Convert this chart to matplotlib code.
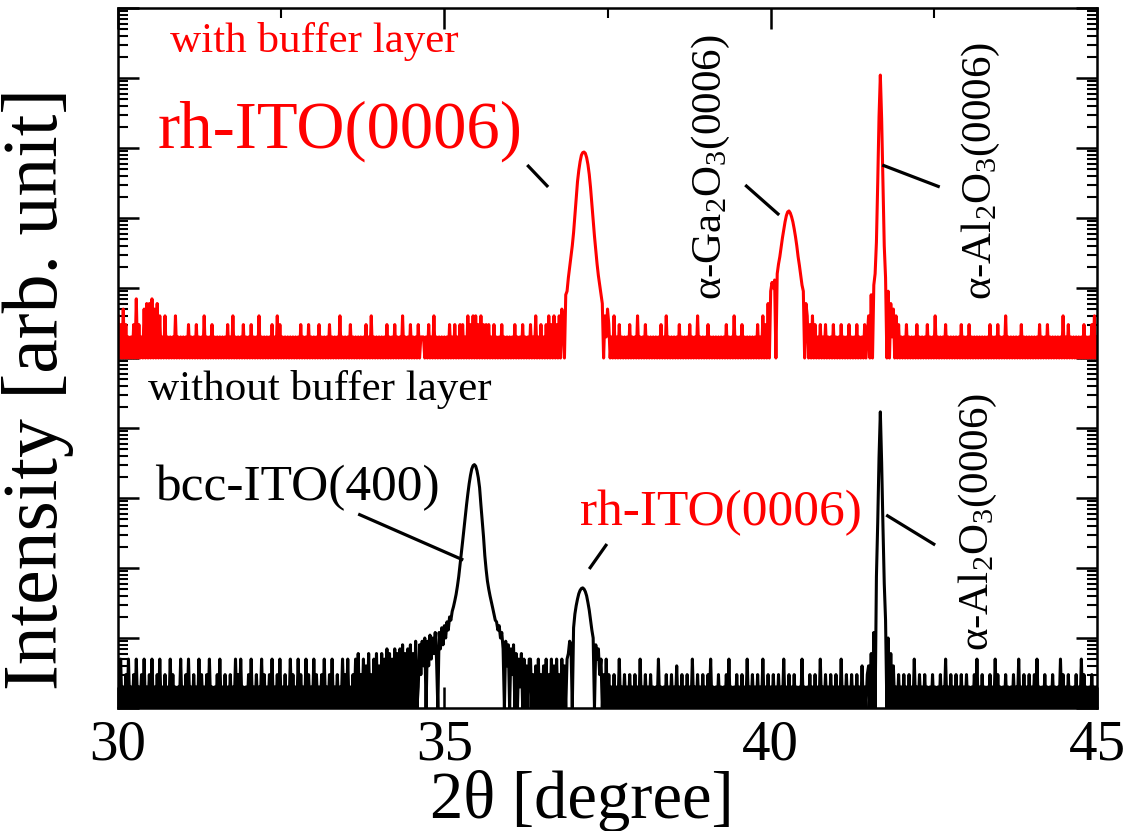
import matplotlib

matplotlib.use("Agg")

import matplotlib.pyplot as plt
import numpy as np
from matplotlib.ticker import LogLocator, MultipleLocator, NullFormatter

plt.rcParams["font.family"] = ["Liberation Serif", "DejaVu Serif"]
plt.rcParams["mathtext.fontset"] = "custom"
plt.rcParams["mathtext.rm"] = "Liberation Serif"
plt.rcParams["mathtext.default"] = "rm"

# 2theta scan 30 -> 45 deg
SCAN_START = 30.0
SCAN_STEP = 0.02
RED_OFFSET = 1e5  # "with buffer layer" curve shifted up by 5 decades

# baseline counts, one digit per step, one row per degree (30..44, then 45.00)
red_noise = "".join([
    "4131513121", "2131713121", "5161617151", "6141214121", "2121412121",
    "2121312121", "3121214121", "2131212121", "2121312141", "2121213121",
    "2131212141", "2121212131", "2141312121", "2121212121", "3121213121",
    "2121312121", "2131212121", "4121212131", "2121212121", "3121412121",
    "2121213121", "2131212141", "2121312121", "3122212131", "2141212121",
    "2121312131", "2131312141", "3141413141", "3131312131", "2121312121",
    "2121312121", "3121213121", "4121312131", "4131413141", "3151415151",
    "2121212121", "2121212121", "2121213121", "4121312121", "2131212141",
    "2121312121", "2121213121", "4121212121", "3121212131", "2121412121",
    "2131212121", "2121213121", "2141212131", "2121212121", "3121413151",
    "5161714181", "9181716151", "4131515141", "3141312131", "2131212131",
    "2121312121", "3121213121", "2131212141", "2131415161", "4161514131",
    "2121312121", "2131212121", "3121214121", "2121312121", "2121213121",
    "2131212121", "2121212131", "2121312121", "4121212121", "2131212121",
    "2121213121", "2131212121", "2121412131", "2121212121", "3121213141",
    "2",
])

black_noise = "".join([
    "3151213151", "2131512131", "5121315121", "3151213121", "5131212151",
    "2131512131", "2151312131", "5121213151", "2131213121", "5131512121",
    "3151213121", "5131213151", "2131512131", "2151312151", "3121513121",
    "5131213151", "2131512131", "2151315121", "3151613151", "4161315161",
    "4161517161", "5171617181", "6171816191", "7181917191", "8191617181",
    "2121212121", "2121212121", "2121212121", "2121212121", "2121212121",
    "2121212121", "2121215131", "4151314151", "3151415131", "5141516151",
    "2121212121", "2121212121", "2131513121", "3121512131", "2131213121",
    "5121312131", "2121512121", "3121312141", "2131213121", "5121312131",
    "2131512121", "3121213151", "2121312131", "2151213121", "3121512131",
    "2131213121", "5121312131", "2121512121", "3121312151", "2131213121",
    "3121512131", "2131213121", "4121312151", "2131614151", "6151412131",
    "2131213121", "5121312131", "2121312121", "3121512131", "2131213121",
    "3121213151", "2131212131", "2151312121", "3121213121", "5121312131",
    "2131512121", "3121213121", "2151312131", "2121312151", "3121213121",
    "2",
])

# peak regions: (start angle, counts at each step)
black_bcc_400 = (34.60, [
    2, 8, 3, 9, 4, 10, 1, 9, 4, 11,
    5, 10, 6, 12, 5, 1, 12, 7, 14, 8,
    15, 10, 17, 13, 20, 18, 24, 28, 34, 42,
    55, 75, 110, 160, 240, 360, 540, 800, 1150, 1600,
    2100, 2600, 2900, 3000, 2850, 2450, 1950, 1400, 800, 480,
    280, 150, 95, 65, 50, 40, 33, 27, 22, 18,
    17, 13, 15, 10, 12, 7, 1, 9, 4, 8,
    1, 7, 3, 8, 1, 6, 1, 5, 2, 6,
    1, 5, 1, 4, 1, 5,
])
black_rh_0006 = (36.90, [
    6, 9, 8, 1, 14, 22, 29, 36, 43, 48,
    51, 52, 50, 46, 40, 32, 25, 18, 13, 10,
    1, 8, 5, 7, 3, 5,
])
black_al2o3 = (41.50, [
    4, 1, 6, 1, 12, 1, 75, 450, 3800, 17000,
    3200, 400, 60, 18, 1, 10, 1, 6, 1,
])

red_rh_0006 = (36.80, [
    5, 3, 1, 8, 9, 14, 20, 28, 40, 62,
    110, 200, 330, 480, 640, 790, 860, 875, 840, 730,
    580, 420, 270, 160, 95, 55, 35, 22, 15, 11,
    8, 6, 1, 4, 2, 5,
])
red_ga2o3 = (39.96, [
    6, 1, 9, 12, 10, 13, 1, 16, 22, 28,
    38, 52, 68, 88, 108, 122, 126, 118, 104, 88,
    70, 54, 40, 28, 21, 15, 11, 9, 1, 6, 4,
])
red_al2o3 = (41.50, [
    4, 1, 8, 1, 11, 16, 45, 320, 2800, 11000,
    2600, 300, 40, 14, 1, 9, 1, 6, 2,
])


def build(noise, peaks):
    counts = np.array([int(c) for c in noise], dtype=float)
    for start, vals in peaks:
        i0 = int(round((start - SCAN_START) / SCAN_STEP))
        counts[i0:i0 + len(vals)] = vals
    return counts


black_counts = build(black_noise, [black_bcc_400, black_rh_0006, black_al2o3])
red_counts = build(red_noise, [red_rh_0006, red_ga2o3, red_al2o3])
two_theta = SCAN_START + SCAN_STEP * np.arange(len(black_counts))

fig = plt.figure(figsize=(11.24, 8.31), dpi=100)
ax = fig.add_axes([0.105, 0.148, 0.871, 0.8424])

ax.plot(two_theta, black_counts, color="black", lw=2.2)
ax.plot(two_theta, red_counts * RED_OFFSET, color="#ff0000", lw=2.2)

ax.set_yscale("log")
ax.set_xlim(30, 45)
ax.set_ylim(1, 1e10)
ax.xaxis.set_major_locator(MultipleLocator(5))
ax.xaxis.set_minor_locator(MultipleLocator(2.5))
ax.yaxis.set_major_locator(LogLocator(base=10, numticks=20))
ax.yaxis.set_minor_locator(LogLocator(base=10, subs=np.arange(2, 10), numticks=200))
ax.yaxis.set_major_formatter(NullFormatter())
ax.yaxis.set_minor_formatter(NullFormatter())
ax.tick_params(which="both", direction="in", top=True, right=True)
ax.tick_params(which="major", length=15, width=1.8, labelsize=41, pad=8)
ax.tick_params(which="minor", length=7.5, width=1.5)
for sp in ax.spines.values():
    sp.set_linewidth(1.8)

ax.set_xlabel("2θ [degree]", fontsize=48)
ax.xaxis.label.set_va("top")
ax.xaxis.set_label_coords(0.474, -0.088)
ax.set_ylabel("Intensity [arb. unit]", fontsize=56)
ax.yaxis.label.set_rotation_mode("default")
ax.yaxis.label.set_va("center")
ax.yaxis.set_label_coords(-0.082, 0.456)

# peak labels
ax.text(30.80, 10 ** 9.37, "with buffer layer", color="#ff0000", fontsize=31, va="baseline")
ax.text(30.61, 10 ** 8.0, "rh-ITO(0006)", color="#ff0000", fontsize=48, va="baseline")
ax.text(30.46, 10 ** 4.4, "without buffer layer", fontsize=31, va="baseline")
ax.text(30.57, 10 ** 2.97, "bcc-ITO(400)", fontsize=37, va="baseline")
ax.text(37.08, 10 ** 2.61, "rh-ITO(0006)", color="#ff0000", fontsize=37, va="baseline")
ax.text(39.08, 10 ** 5.83, "α-Ga$_2$O$_3$(0006)", rotation=90, ha="center", va="bottom", fontsize=31)
ax.text(43.22, 10 ** 5.83, "α-Al$_2$O$_3$(0006)", rotation=90, ha="center", va="bottom", fontsize=31)
ax.text(43.18, 10 ** 0.81, "α-Al$_2$O$_3$(0006)", rotation=90, ha="center", va="bottom", fontsize=31)

# leader lines (x0, x1, log y0, log y1)
leaders = [
    (36.27, 36.59, 7.757, 7.443),
    (39.61, 40.13, 7.471, 7.043),
    (41.71, 42.59, 7.757, 7.443),
    (33.68, 35.29, 2.771, 2.114),
    (37.49, 37.22, 2.343, 1.986),
    (41.77, 42.52, 2.757, 2.329),
]
for x0, x1, y0, y1 in leaders:
    ax.plot([x0, x1], [10 ** y0, 10 ** y1], color="black", lw=2.3, solid_capstyle="butt")

fig.savefig("out.png", dpi=100)
plt.close(fig)
